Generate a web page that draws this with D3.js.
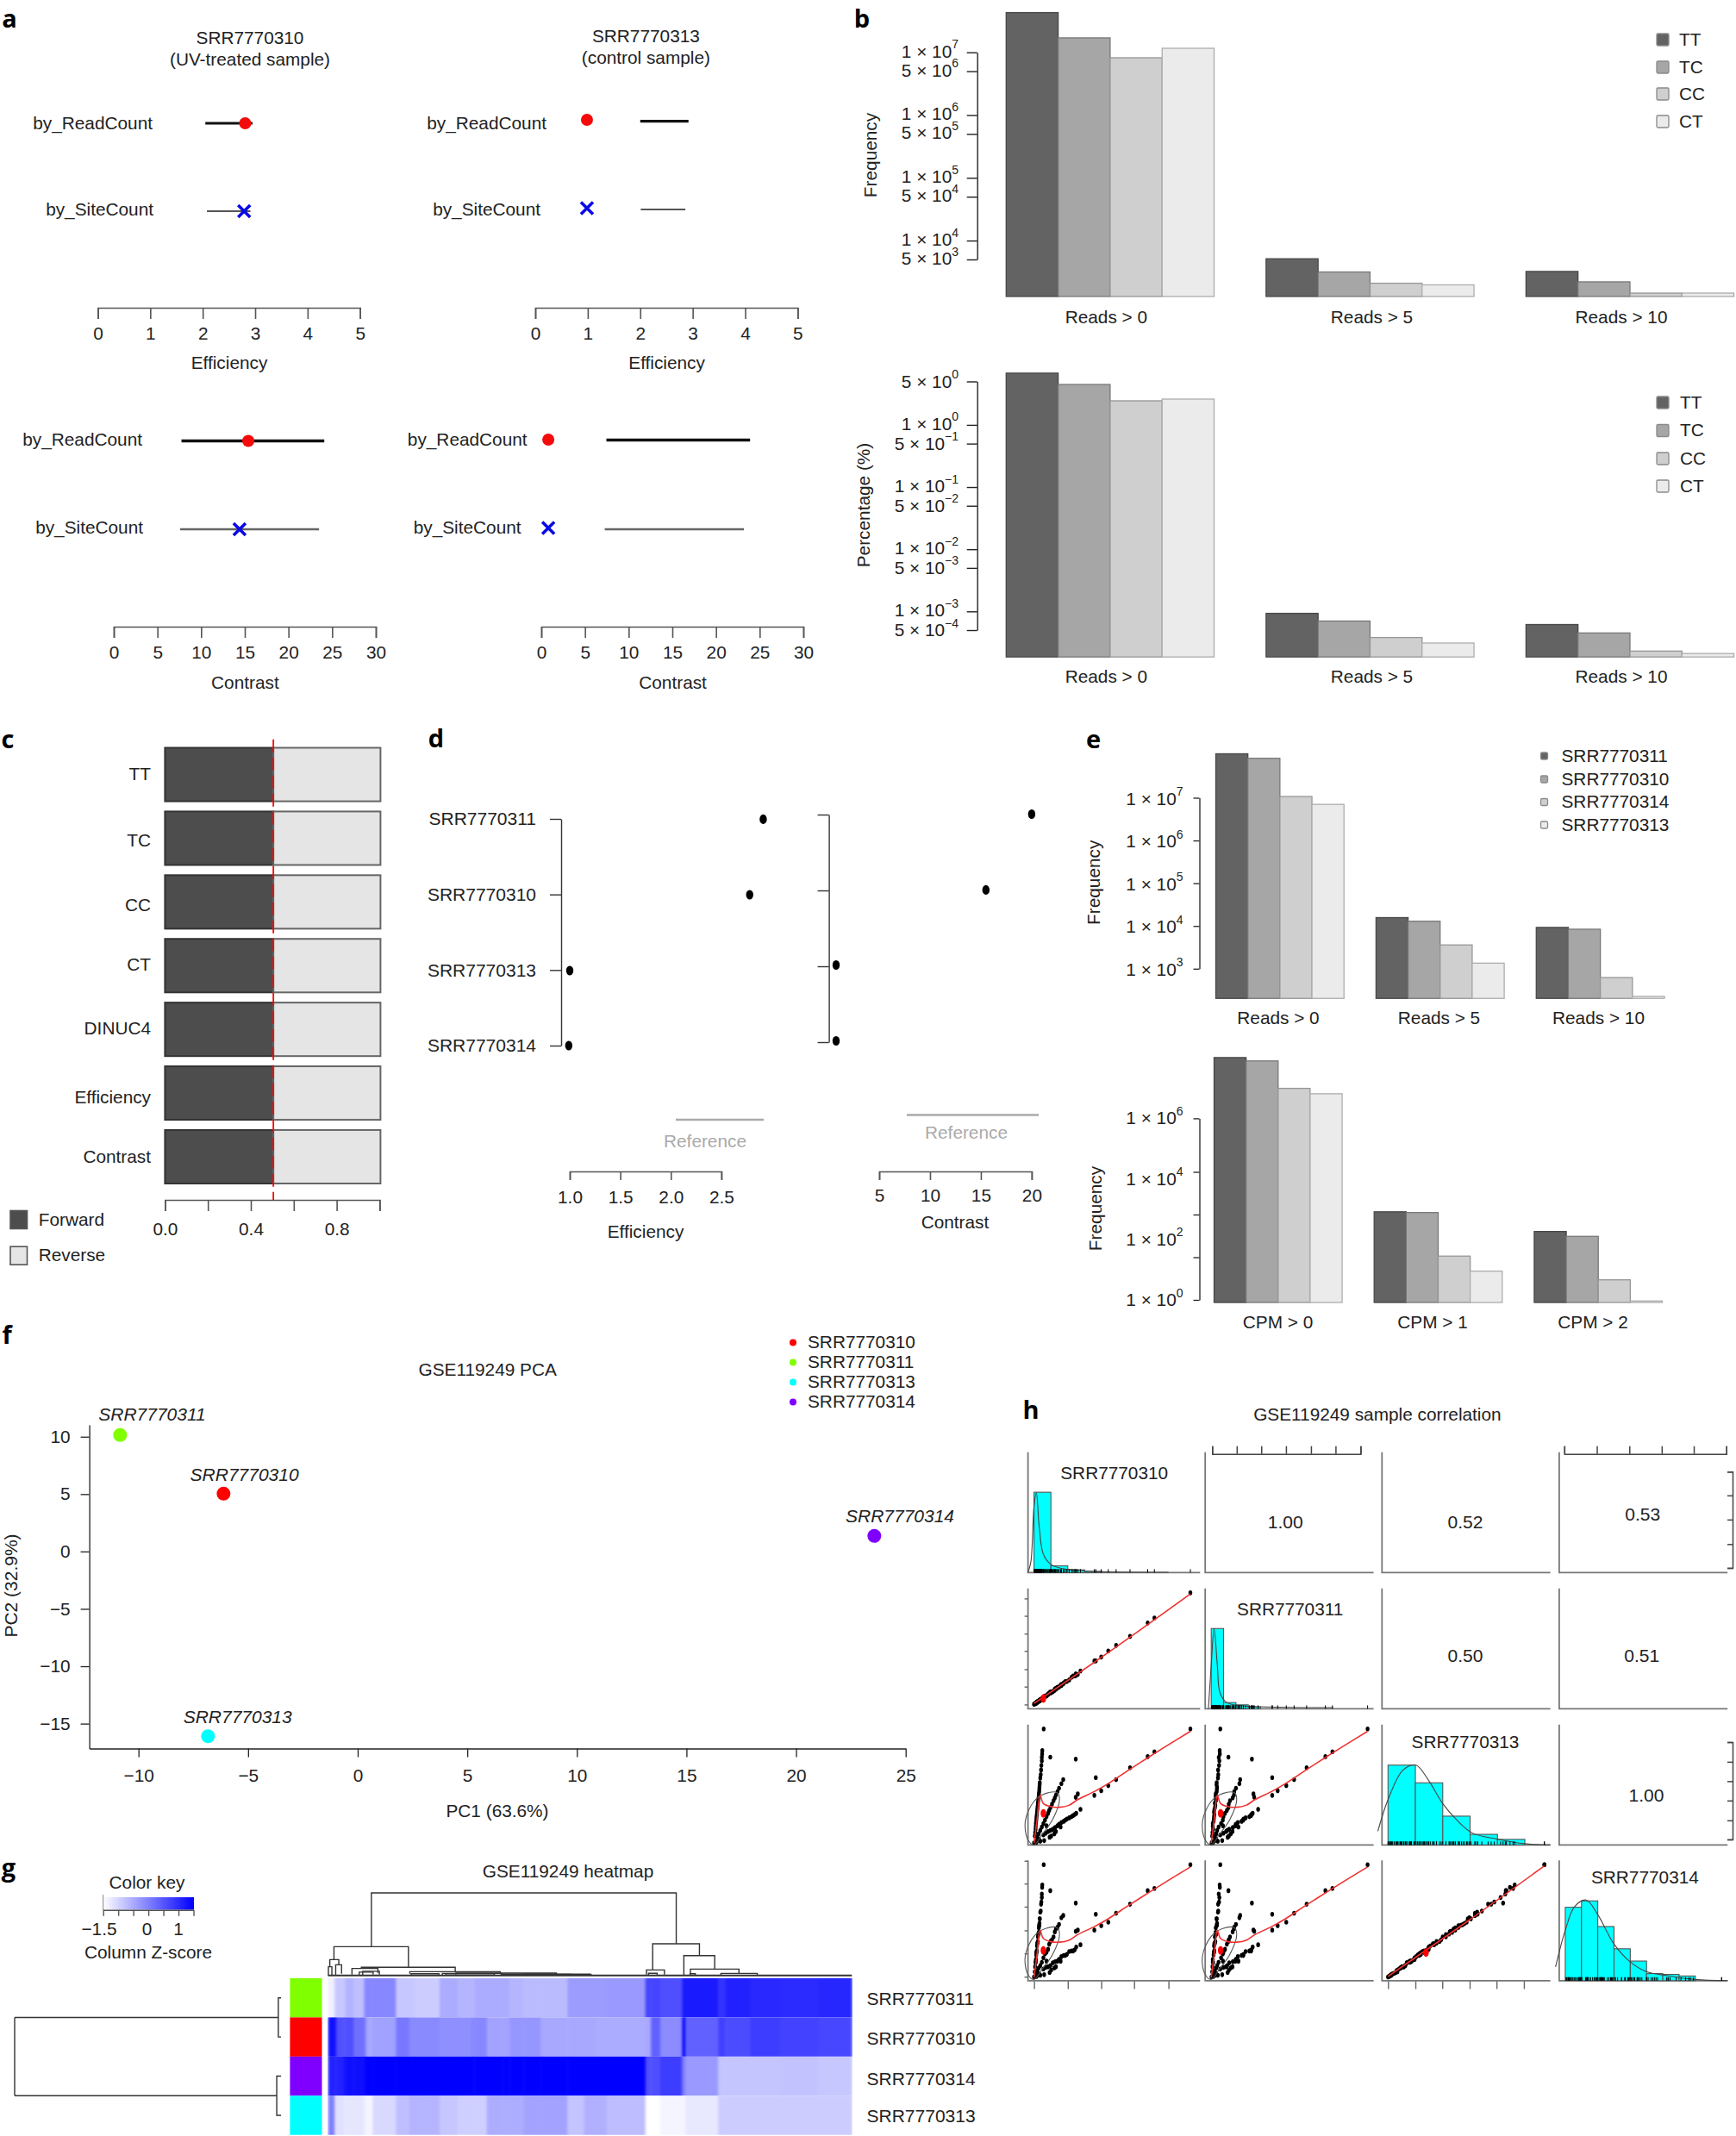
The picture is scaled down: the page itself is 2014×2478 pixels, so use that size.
<!DOCTYPE html>
<html>
<head>
<meta charset="utf-8">
<script src="https://cdn.jsdelivr.net/npm/d3@7"></script>
<style>
  body { margin: 0; background: #fff; }
  text { font-family: "Liberation Sans", Arial, sans-serif; fill: #222; }
  .letter { font-family: "Open Sans", sans-serif; font-weight: bold; font-size: 29px; fill: #000; }
</style>
</head>
<body>
<script>
////// Data

// a: [CI low, CI high, sample value]
var a310EffRead = [2.05, 2.95, 2.81], a310EffSite = [2.08, 2.91, 2.79];
var a313EffRead = [2.0, 2.92, 0.985], a313EffSite = [2.01, 2.86, 0.985];
var a310ConRead = [7.75, 24.1, 15.4], a310ConSite = [7.6, 23.5, 14.4];
var a313ConRead = [7.45, 23.9, 0.8], a313ConSite = [7.26, 23.2, 0.8];

// b
var dinucs = ["TT", "TC", "CC", "CT"];
var readGroups = ["Reads > 0", "Reads > 5", "Reads > 10"];
var bFreq = [[4.3e7, 1.7e7, 8.2e6, 1.16e7], [5130, 3160, 2090, 1970], [3220, 2200, 1455, 1455]];
var bPerc = [[6.8, 4.47, 2.44, 2.6], [9.3e-4, 7.0e-4, 3.8e-4, 3.1e-4], [6.15e-4, 4.5e-4, 2.3e-4, 2.1e-4]];
var bFreqTicks = [[1,7],[5,6],[1,6],[5,5],[1,5],[5,4],[1,4],[5,3]];
var bPercTicks = [[5,0],[1,0],[5,-1],[1,-1],[5,-2],[1,-2],[5,-3],[1,-3],[5,-4]];
var greys = ["#636363", "#a6a6a6", "#cfcfcf", "#ebebeb"];
var greyEdges = ["#474747", "#787878", "#969696", "#adadad"];

// c
var cRows = ["TT", "TC", "CC", "CT", "DINUC4", "Efficiency", "Contrast"];
var cForward = [0.505, 0.505, 0.505, 0.505, 0.505, 0.505, 0.505];

// d
var dSamples = ["SRR7770311", "SRR7770310", "SRR7770313", "SRR7770314"];
var dEfficiency = [2.914, 2.78, 1.0, 0.99];
var dContrast = [20, 15.5, 0.76, 0.76];

// e
var eSamples = ["SRR7770311", "SRR7770310", "SRR7770314", "SRR7770313"];
var cpmGroups = ["CPM > 0", "CPM > 1", "CPM > 2"];
var eReads = [[1.07e8, 8.4e7, 1.07e7, 7e6], [15700, 12900, 3600, 1350], [9250, 8400, 620, 225]];
var eCpm = [[1.02e8, 7.9e7, 9.8e6, 6.5e6], [815, 770, 28, 8.9], [182, 126, 4.6, 0.92]];
var eCpmTicks = [1e6, 17000, 661, 25.7, 1];

// f
var pcaSamples = ["SRR7770310", "SRR7770311", "SRR7770313", "SRR7770314"];
var pcaColors = ["#ff0000", "#80ff00", "#00ffff", "#8000ff"];
var pc1 = [-6.12, -10.84, -6.83, 23.57];
var pc2 = [5.04, 10.15, -16.1, 1.36];

// g
var heatRows = ["SRR7770311", "SRR7770310", "SRR7770314", "SRR7770313"];
var heatSide = ["#80ff00", "#ff0000", "#8000ff", "#00ffff"];
var heatEdges = [0,19,24,44,49,74,104,109,129,134,196,234,249,322,374,414,422,458,504,524,564,614,691,739,774,804,916,932,959,1022,1031,1126,1146,1219,1304,1414,1512];
var heat311 = [-1.32,-.84,-.84,-.84,-.6,-.75,-.09,-.09,-.09,-.09,-.84,-.84,-.9,-.51,-.63,-.63,-.51,-.51,-.51,-.63,-.69,-.69,-.33,-.33,-.33,-.3,.69,.69,.57,1.2,1.2,.9,1.11,1.02,.99,1.05];
var heat310 = [1.32,1.32,.57,.57,.57,.18,.18,-.48,-.39,-.39,.09,-.12,-.12,-.18,-.18,-.09,-.09,-.42,-.42,-.27,-.27,-.48,-.48,-.48,-.51,-.51,-.48,.36,-.15,1.44,.36,.75,.6,.78,.72,.66];
var heat314 = [1.11,1.11,1.11,1.32,1.32,1.32,1.5,1.5,1.5,1.5,1.5,1.5,1.5,1.5,1.5,1.5,1.5,1.5,1.5,1.5,1.5,1.5,1.5,1.5,1.5,1.5,.57,.57,.78,0,-.3,-.81,-.81,-.81,-.78,-.84];
var heat313 = [0,-1.14,-1.14,-1.2,-1.2,-1.2,-1.32,-1.38,-1.05,-1.05,-.75,-.63,-.63,-.84,-.93,-.93,-.93,-.54,-.54,-.54,-.42,-.42,-.81,-.57,-.57,-.72,-1.5,-1.5,-1.38,-1.38,-1.23,-.9,-.9,-.9,-.9,-.9];
// column dendrogram merges: [left leaf, right leaf, left child height, right child height, height]
var colMerges = [
  [125,1005,34.8,38.3,100],[17,232,19.2,9.8,34.8],[937,1072,6.6,24,38.3],[1027,1116,0,7.7,24],
  [1046,1186,2,2.4,7.7],[1134,1239,0,0,2.4],[919,971,1,1,6.6],[5,31,10.5,12.9,19.2],[1,11,0,0,10.5],
  [22,39,0,2,12.9],[96,367,8.4,4.5,9.8],[69,144,1,3,8.4],[90,130,0,1,4],[100,148,0,1,5],[236,497,2,2.8,4.5],
  [369,659,1,1.5,2.8],[500,757,0,1,1.5],[560,700,0,0,1.2],[565,660,0,0,1.4],[700,760,0,0,0.7],[240,320,0,0,2],
  [925,950,0,0,2.5],[1045,1060,0,0,2],[330,500,0,0,2.4],[340,480,0,0,1.9]
];
// row dendrogram merges: [top row, bottom row, height]
var rowMerges = [[0, 1, 1], [2, 3, 1.6]];

// h: sample values in the pair panels, one entry per gene
var g310 = [.005,.01,.012,.015,.018,.021,.024,.027,.03,.033,.035,.037,.04,.043,.045,.047,.05,.05,.052,.053,.062,
  .03,.05,.07,.09,.105,.125,.14,.16,.175,.187,.28,.267,
  .06,.09,.12,.15,.175,.2,.225,.25,.27,.297,.1,.13,.065,.08,
  .395,.386,.43,.475,.525,.614,.727,.77,1,.267,.104,
  0,.01,.02,.03,.04,.015,.025,.035,
  .007,.011,.014,.016,.019,.022,.025,.028,.031,.034,.036,
  .02,.04,.06,.08,.097,.115,.133,.15,
  .075,.105,.135,.16,.19,.21,.24,.26,.11,.14,.17];
var g311 = [.006,.012,.01,.017,.02,.02,.026,.03,.028,.035,.037,.035,.043,.045,.044,.05,.052,.048,.055,.054,.058,
  .032,.047,.074,.088,.11,.12,.145,.158,.18,.185,.27,.275,
  .058,.095,.115,.155,.17,.205,.22,.255,.265,.3,.105,.125,.07,.075,
  .39,.39,.425,.48,.53,.61,.73,.775,1,.26,.11,
  .002,.008,.022,.028,.042,.013,.027,.033,
  .008,.01,.015,.018,.018,.024,.023,.03,.029,.036,.034,
  .022,.038,.063,.078,.1,.112,.137,.147,
  .078,.102,.138,.157,.194,.206,.244,.256,.113,.136,.174];
var g313 = [.06,.12,.17,.21,.25,.29,.33,.37,.41,.45,.49,.53,.57,.6,.64,.68,.72,.75,.78,.81,1,
  .08,.14,.2,.26,.31,.37,.42,.48,.52,.556,.43,.4,
  .07,.1,.12,.15,.18,.2,.22,.24,.26,.295,.05,.08,.02,.15,
  .573,.417,.458,.503,.556,.66,.757,.8,1,.736,.753,
  0,.01,.02,.03,.015,.005,.04,.025,
  .09,.145,.19,.23,.27,.31,.35,.39,.43,.47,.51,
  .055,.11,.17,.23,.285,.34,.395,.45,
  .085,.11,.135,.165,.19,.21,.23,.25,.06,.1,.14];
var g314 = [.05,.13,.16,.22,.24,.3,.32,.38,.4,.46,.48,.52,.58,.59,.65,.67,.71,.74,.8,.82,1,
  .085,.135,.21,.25,.32,.36,.43,.47,.53,.55,.42,.41,
  .075,.095,.13,.145,.185,.195,.23,.235,.27,.29,.045,.085,.025,.145,
  .56,.42,.46,.49,.57,.65,.77,.79,1,.66,.77,
  .005,.012,.018,.033,.02,.008,.038,.028,
  .095,.14,.2,.225,.28,.305,.36,.385,.44,.465,.52,
  .06,.105,.175,.225,.295,.335,.405,.445,
  .09,.105,.14,.16,.195,.205,.235,.245,.065,.095,.145];
var hHist310 = [.668,.056,.023,.01], hWidth310 = .108;
var hHist311 = [.667,.052,.033,.016], hWidth311 = .079;
var hHist313 = [.663,.516,.239,.088,.046], hWidth313 = .175;
var hHist314 = [.61,.663,.45,.265,.163,.059,.052,.039], hWidth314 = .104;
var hDens310 = [[-.039,0],[-.02,.09],[0,.55],[.015,.664],[.033,.385],[.059,.155],[.104,.072],[.163,.039],[.252,.023],[.43,.007],[.86,.003]];
var hDens311 = [[-.018,0],[0,.363],[.018,.667],[.039,.363],[.056,.134],[.099,.052],[.19,.026],[.78,.01]];
var hDens313 = [[-.065,.114],[0,.376],[.095,.621],[.178,.663],[.258,.539],[.35,.343],[.436,.212],[.54,.098],[.697,.049],[.872,.01],[1.04,0]];
var hDens314 = [[-.062,.114],[0,.418],[.059,.614],[.134,.67],[.208,.549],[.312,.304],[.415,.157],[.519,.075],[.653,.042],[.83,.01],[1.04,0]];
var hLoessFan = [[0,0],[.02,.21],[.039,.417],[.059,.347],[.104,.319],[.163,.313],[.223,.33],[.282,.382],[.386,.451],[.475,.521],[.608,.642],[.727,.747],[.846,.85],[1,.98]];
var hLoessLine = [[0,.01],[.5,.49],[1,.99]];
var hEllipseFan = [[-.056,.19],[-.04,.03],[0,-.017],[.05,.07],[.12,.208],[.163,.38],[.148,.441],[.074,.434],[0,.365]];
var hCorr = ["1.00", "0.52", "0.53", "0.50", "0.51", "1.00"];

////// Drawing helpers

var baseFont = 20.8;
var svg = d3.select("body").append("svg").attr("width", 2014).attr("height", 2478);
svg.append("rect").attr("width", 2014).attr("height", 2478).attr("fill", "#fff");

function label(x, y, str, size, anchor, opts) {
  var t = svg.append("text").attr("x", x).attr("y", y - 1).attr("font-size", size || baseFont)
    .attr("text-anchor", anchor || "middle").attr("dominant-baseline", "central").text(str);
  if (opts && opts.fill) t.style("fill", opts.fill);
  if (opts && opts.italic) t.attr("font-style", "italic");
  return t;
}

function vlabel(x, y, str, size) {
  svg.append("text").attr("transform", "translate(" + x + "," + y + ") rotate(-90)")
    .attr("font-size", size || baseFont).attr("text-anchor", "middle").attr("dominant-baseline", "central").text(str);
}

function letter(x, y, str) {
  svg.append("text").attr("class", "letter").attr("x", x).attr("y", y)
    .attr("text-anchor", "middle").attr("dominant-baseline", "central").text(str);
}

function styleAxis(g, size, colour, width) {
  g.attr("font-size", size || baseFont).attr("font-family", null);
  g.selectAll("path.domain").attr("stroke", colour || "#555").attr("stroke-width", width || 1.6);
  g.selectAll(".tick line").attr("stroke", colour || "#555").attr("stroke-width", width || 1.6);
  g.selectAll(".tick text").style("fill", "#222");
}

function axisBelow(scale, y, values, tick, labelY, format) {
  var ax = d3.axisBottom(scale).tickValues(values).tickSizeInner(tick).tickSizeOuter(tick)
    .tickPadding(labelY - y - tick - 8).tickFormat(format || d3.format("d"));
  var g = svg.append("g").attr("transform", "translate(0," + y + ")").call(ax);
  styleAxis(g);
  return g;
}

function sciLabel(x, y, m, e, size) {
  var t = svg.append("text").attr("x", x).attr("y", y - 0.5).attr("font-size", size || baseFont)
    .attr("text-anchor", "end").attr("dominant-baseline", "central").text(m + " × 10");
  t.append("tspan").attr("dy", -8).attr("font-size", 14)
    .text(String(e).replace("-", "−"));
}

////// Panel a

function ciRow(x, labelRight, labelY, str, vals, lineY, pointY, lineW, lineCol, cross) {
  label(labelRight, labelY, str, baseFont, "end");
  svg.append("line").attr("x1", x(vals[0])).attr("x2", x(vals[1])).attr("y1", lineY).attr("y2", lineY)
    .attr("stroke", lineCol).attr("stroke-width", lineW);
  if (cross) {
    svg.append("path").attr("transform", "translate(" + x(vals[2]) + "," + pointY + ")")
      .attr("d", "M-7,-7L7,7M-7,7L7,-7").attr("stroke", "#0a0ae6").attr("stroke-width", 3.6).attr("fill", "none");
  } else {
    svg.append("circle").attr("cx", x(vals[2])).attr("cy", pointY).attr("r", 7).attr("fill", "#f40a0a");
  }
}

var aEff1 = d3.scaleLinear().domain([0, 5]).range([113.5, 417.7]);
var aEff2 = d3.scaleLinear().domain([0, 5]).range([621, 925.4]);
var aCon1 = d3.scaleLinear().domain([0, 30]).range([132, 436]);
var aCon2 = d3.scaleLinear().domain([0, 30]).range([628, 932]);
[aEff1, aEff2].forEach(function (s) { axisBelow(s, 357, [0,1,2,3,4,5], 13, 387); });
[aCon1, aCon2].forEach(function (s) { axisBelow(s, 727, [0,5,10,15,20,25,30], 13, 757); });
label(266, 421.5, "Efficiency"); label(773.6, 421.5, "Efficiency");
label(284.4, 792, "Contrast"); label(780.6, 792, "Contrast");
label(290, 44.5, "SRR7770310"); label(290, 69, "(UV-treated sample)");
label(749.4, 42, "SRR7770313"); label(749.4, 67, "(control sample)");

ciRow(aEff1, 177, 143, "by_ReadCount", a310EffRead, 143, 143, 3.2, "#111", false);
ciRow(aEff1, 178, 243, "by_SiteCount", a310EffSite, 245, 245, 2.2, "#555", true);
ciRow(aEff2, 634, 143, "by_ReadCount", a313EffRead, 140.7, 139, 3.2, "#111", false);
ciRow(aEff2, 627, 243, "by_SiteCount", a313EffSite, 243, 241.6, 2.2, "#555", true);
ciRow(aCon1, 165, 510.5, "by_ReadCount", a310ConRead, 511.5, 511.5, 3.6, "#111", false);
ciRow(aCon1, 166, 612.5, "by_SiteCount", a310ConSite, 614, 614, 2.6, "#666", true);
ciRow(aCon2, 611.6, 510.5, "by_ReadCount", a313ConRead, 510.5, 510, 3.6, "#111", false);
ciRow(aCon2, 604.6, 612.5, "by_SiteCount", a313ConSite, 614, 612.5, 2.6, "#666", true);

////// Panels b and e: grouped bars on a log axis

function logBars(groups, series, x0Range, y, base) {
  var x0 = d3.scaleBand().domain(groups).range(x0Range).paddingInner(0.2);
  var x1 = d3.scaleBand().domain([0, 1, 2, 3]).range([0, x0.bandwidth()]);
  groups.forEach(function (g, i) {
    svg.append("g").selectAll("rect").data(series[i]).enter().append("rect")
      .attr("x", function (d, j) { return x0(g) + x1(j); })
      .attr("width", x1.bandwidth())
      .attr("y", function (d) { return y(d); })
      .attr("height", function (d) { return y(base) - y(d); })
      .attr("fill", function (d, j) { return greys[j]; })
      .attr("stroke", function (d, j) { return greyEdges[j]; })
      .attr("stroke-width", 1.3);
  });
}

function logAxis(y, x, ticks) {
  var g = svg.append("g").attr("transform", "translate(" + x + ",0)")
    .call(d3.axisLeft(y).tickValues(ticks).tickSizeInner(12).tickSizeOuter(0).tickFormat(""));
  styleAxis(g, baseFont, "#222", 1.4);
}

function swatches(names, x, ys, size, textX, fontSize) {
  names.forEach(function (n, i) {
    svg.append("rect").attr("x", x).attr("y", ys[i] - size / 2).attr("width", size).attr("height", size)
      .attr("rx", 1.5).attr("fill", greys[i]).attr("stroke", "#8a8a8a").attr("stroke-width", 1.3);
    label(textX, ys[i], n, fontSize || baseFont, "start");
  });
}

var bFreqY = d3.scaleLog().domain([1e7, 5e3]).range([60.7, 301]);
var bPercY = d3.scaleLog().domain([5, 5e-4]).range([442.5, 731]);
logBars(readGroups, bFreq, [1167.3, 2011.6], bFreqY, 1285);
logBars(readGroups, bPerc, [1167.3, 2011.6], bPercY, 1.85e-4);
logAxis(bFreqY, 1133.7, bFreqTicks.map(function (t) { return t[0] * Math.pow(10, t[1]); }));
logAxis(bPercY, 1133.7, bPercTicks.map(function (t) { return t[0] * Math.pow(10, t[1]); }));
bFreqTicks.forEach(function (t) { sciLabel(1112, bFreqY(t[0] * Math.pow(10, t[1])) - 1, t[0], t[1]); });
bPercTicks.forEach(function (t) { sciLabel(1112, bPercY(t[0] * Math.pow(10, t[1])) - (t[0] === 1 ? 1 : 0), t[0], t[1]); });
vlabel(1009.7, 180, "Frequency");
vlabel(1001.8, 586, "Percentage (%)");
[1283.4, 1591.5, 1881].forEach(function (x, i) {
  label(x, 368.7, readGroups[i]);
  label(x, 785, readGroups[i]);
});
swatches(dinucs, 1922, [46, 78, 109, 141], 14, 1948);
swatches(dinucs, 1922, [467, 499.5, 532, 564], 14, 1949);

var eReadY = d3.scaleLog().domain([1e7, 1e3]).range([925.5, 1123.8]);
var eCpmY = d3.scaleLog().domain([1e6, 1]).range([1297.4, 1508]);
logBars(readGroups, eReads, [1410.5, 1931], eReadY, 202);
logBars(cpmGroups, eCpm, [1408.5, 1928.5], eCpmY, 0.82);
var eg1 = svg.append("g").attr("transform", "translate(1391.5,0)")
  .call(d3.axisLeft(eReadY).tickValues([1e7, 1e6, 1e5, 1e4, 1e3]).tickSizeInner(7).tickSizeOuter(0).tickFormat(""));
styleAxis(eg1, baseFont, "#222", 1.3);
var eg2 = svg.append("g").attr("transform", "translate(1391.5,0)")
  .call(d3.axisLeft(eCpmY).tickValues(eCpmTicks).tickSizeInner(7).tickSizeOuter(0).tickFormat(""));
styleAxis(eg2, baseFont, "#222", 1.3);
[7, 6, 5, 4, 3].forEach(function (e) { sciLabel(1372.5, eReadY(Math.pow(10, e)) + 1, 1, e); });
[6, 4, 2, 0].forEach(function (e) { sciLabel(1372.5, eCpmY(Math.pow(10, e)), 1, e); });
vlabel(1268.5, 1023.8, "Frequency");
vlabel(1270, 1402, "Frequency");
[1483, 1669.5, 1854.5].forEach(function (x, i) { label(x, 1181, readGroups[i]); });
[1482.5, 1662, 1848].forEach(function (x, i) { label(x, 1534, cpmGroups[i]); });
swatches(eSamples, 1787.5, [877, 904, 930.5, 957], 8, 1811.5);

////// Panel c

var cX = d3.scaleLinear().domain([0, 1]).range([191.4, 440.4]);
var cY = d3.scaleBand().domain(cRows).range([867.5, 1373]).paddingInner(0.16).paddingOuter(0);
var cLabelY = [898, 975, 1050.5, 1119.5, 1193, 1273, 1342];
cRows.forEach(function (r, i) {
  svg.append("rect").attr("x", cX(0)).attr("y", cY(r)).attr("width", cX(cForward[i]) - cX(0)).attr("height", cY.bandwidth())
    .attr("fill", "#4d4d4d").attr("stroke", "#333").attr("stroke-width", 2);
  svg.append("rect").attr("x", cX(cForward[i])).attr("y", cY(r)).attr("width", cX(1) - cX(cForward[i]) + 1).attr("height", cY.bandwidth())
    .attr("fill", "#e5e5e5").attr("stroke", "#666").attr("stroke-width", 2);
  label(175, cLabelY[i], r, baseFont, "end");
});
svg.append("line").attr("x1", cX(0.505)).attr("x2", cX(0.505)).attr("y1", 857.8).attr("y2", 1393)
  .attr("stroke", "#f00").attr("stroke-width", 1.8).attr("stroke-dasharray", "15 6");
axisBelow(cX, 1392, [0, .2, .4, .6, .8, 1], 13, 1426, function (d) {
  return (d === 0 || d === .4 || d === .8) ? d.toFixed(1) : "";
});
[["Forward", "#4d4d4d", 1415], ["Reverse", "#e5e5e5", 1456.7]].forEach(function (l) {
  svg.append("rect").attr("x", 12).attr("y", l[2] - 10.5).attr("width", 19.5).attr("height", 21)
    .attr("fill", l[1]).attr("stroke", "#555").attr("stroke-width", 1.6);
  label(44.7, l[2], l[0], baseFont, "start");
});

////// Panel d

function dotAxis(axisX, yRange, values, xScale, yDots, showLabels) {
  var y = d3.scalePoint().domain(dSamples).range(yRange);
  var ax = d3.axisLeft(y).tickSizeInner(13).tickSizeOuter(0).tickPadding(16);
  if (!showLabels) ax.tickFormat("");
  var g = svg.append("g").attr("transform", "translate(" + axisX + ",0)").call(ax);
  styleAxis(g, 21, "#333", 1.4);
  svg.append("g").selectAll("ellipse").data(values).enter().append("ellipse")
    .attr("cx", function (d) { return xScale(d); })
    .attr("cy", function (d, i) { return yDots[i]; })
    .attr("rx", 4.2).attr("ry", 5.6).attr("fill", "#000");
}
var dEffX = d3.scaleLinear().domain([1, 2.5]).range([661, 836.9]);
var dConX = d3.scaleLinear().domain([5, 20]).range([1020, 1196.9]);
dotAxis(651, [950, 1213], dEfficiency, dEffX, [950.4, 1038, 1126, 1213], true);
dotAxis(961.6, [945, 1209], dContrast, dConX, [944.5, 1032.4, 1119.5, 1207.5], false);
axisBelow(dEffX, 1359, [1, 1.5, 2, 2.5], 10, 1389, d3.format(".1f"));
axisBelow(dConX, 1359, [5, 10, 15, 20], 10, 1387);
label(749, 1429, "Efficiency"); label(1108, 1418, "Contrast");
[[784, 886, 1299, 818, 1324], [1052, 1205, 1293.4, 1121, 1314]].forEach(function (r) {
  svg.append("line").attr("x1", r[0]).attr("x2", r[1]).attr("y1", r[2]).attr("y2", r[2])
    .attr("stroke", "#aaa").attr("stroke-width", 2.5);
  label(r[3], r[4], "Reference", baseFont, "middle", { fill: "#aaa" });
});

////// Panel f

var fX = d3.scaleLinear().domain([-12.245, 25]).range([103.6, 1050.7]);
var fY = d3.scaleLinear().domain([11.04, -17.17]).range([1652.9, 2028.5]);
var fmtMinus = function (d) { return String(d).replace("-", "−"); };
var fxg = svg.append("g").attr("transform", "translate(0,2028.5)")
  .call(d3.axisBottom(fX).tickValues([-10, -5, 0, 5, 10, 15, 20, 25]).tickSizeInner(10).tickSizeOuter(0).tickPadding(14).tickFormat(fmtMinus));
styleAxis(fxg, baseFont, "#222", 1.3);
var fyg = svg.append("g").attr("transform", "translate(103.6,0)")
  .call(d3.axisLeft(fY).tickValues([10, 5, 0, -5, -10, -15]).tickSizeInner(10).tickSizeOuter(0).tickPadding(12).tickFormat(fmtMinus));
styleAxis(fyg, baseFont, "#222", 1.3);
var fLabelX = [283.6, 176.5, 275.7, 1044];
var fLabelY = [1711.4, 1641.4, 1992.5, 1759.6];
pcaSamples.forEach(function (s, i) {
  svg.append("circle").attr("cx", fX(pc1[i])).attr("cy", fY(pc2[i])).attr("r", 8).attr("fill", pcaColors[i]);
  label(fLabelX[i], fLabelY[i], s, 21, "middle", { italic: true });
  var ly = [1557.6, 1580.5, 1603.4, 1626.4][i];
  svg.append("circle").attr("cx", 920).attr("cy", ly).attr("r", 4).attr("fill", pcaColors[i]);
  label(937, ly, s, baseFont, "start");
});
label(565.7, 1589, "GSE119249 PCA");
label(577, 2101, "PC1 (63.6%)");
vlabel(12, 1839.5, "PC2 (32.9%)", 21);

////// Panel g

svg.append("defs").append("filter").attr("id", "heatBlur")
  .attr("x", "0").attr("width", "1").attr("color-interpolation-filters", "sRGB")
  .append("feGaussianBlur").attr("stdDeviation", "1.5 0").attr("edgeMode", "duplicate");

var heatColor = d3.scaleLinear().domain([-1.5, 1.5]).range(["#ffffff", "#0000ff"]);
var heatX = d3.scaleLinear().domain([0, 1512]).range([380.6, 988.3]);
var heatY = d3.scaleBand().domain(heatRows).range([2295, 2476.7]);
[heat311, heat310, heat314, heat313].forEach(function (vals, r) {
  svg.append("g").attr("filter", "url(#heatBlur)").selectAll("rect").data(vals).enter().append("rect")
    .attr("x", function (d, i) { return heatX(heatEdges[i]); })
    .attr("width", function (d, i) { return heatX(heatEdges[i + 1]) - heatX(heatEdges[i]) + 0.5; })
    .attr("y", heatY(heatRows[r])).attr("height", heatY.bandwidth())
    .attr("fill", function (d) { return heatColor(d); });
  svg.append("rect").attr("x", 336.4).attr("width", 37.1).attr("y", heatY(heatRows[r])).attr("height", heatY.bandwidth())
    .attr("fill", heatSide[r]);
});
[2319, 2365, 2412, 2455.5].forEach(function (y, i) { label(1005.5, y, heatRows[i], 21, "start"); });

var dendroY = d3.scaleLinear().domain([0, 100]).range([2291.7, 2196]);
var dendroLine = svg.append("g").attr("fill", "none").attr("stroke", "#333").attr("stroke-width", 1.4);
colMerges.forEach(function (m) {
  dendroLine.append("path").attr("d",
    "M" + heatX(m[0]) + "," + dendroY(m[2]) + "V" + dendroY(m[4]) + "H" + heatX(m[1]) + "V" + dendroY(m[3]));
});
dendroLine.append("line").attr("x1", heatX(0)).attr("x2", heatX(1512)).attr("y1", dendroY(0)).attr("y2", dendroY(0))
  .attr("stroke-width", 2);

var rowDendroX = d3.scaleLinear().domain([0, 100]).range([326, 17]);
var rowMid = heatRows.map(function (r) { return heatY(r) + heatY.bandwidth() / 2; });
rowMerges.forEach(function (m) {
  var x = rowDendroX(m[2]);
  dendroLine.append("path").attr("d", "M" + rowDendroX(0) + "," + rowMid[m[0]] + "H" + x + "V" + rowMid[m[1]] + "H" + rowDendroX(0));
  var mid = (rowMid[m[0]] + rowMid[m[1]]) / 2;
  dendroLine.append("path").attr("d", "M" + x + "," + mid + "H" + rowDendroX(100));
});
dendroLine.append("line").attr("x1", rowDendroX(100)).attr("x2", rowDendroX(100))
  .attr("y1", (rowMid[0] + rowMid[1]) / 2).attr("y2", (rowMid[2] + rowMid[3]) / 2);

// colour key
var keyX = d3.scaleLinear().domain([-1.5, 1.5]).range([119.7, 224.5]);
var keyStops = d3.range(-1.5, 1.45, 0.1);
svg.append("g").selectAll("rect").data(keyStops).enter().append("rect")
  .attr("x", function (d) { return keyX(d); }).attr("width", keyX(0.1) - keyX(0) + 0.5)
  .attr("y", 2201).attr("height", 14.5).attr("fill", function (d) { return heatColor(d + 0.05); });
svg.append("line").attr("x1", 119.7).attr("x2", 119.7).attr("y1", 2198).attr("y2", 2216).attr("stroke", "#888");
var keyAxis = svg.append("g").attr("transform", "translate(0,2215.7)")
  .call(d3.axisBottom(keyX).tickValues([-1.5, -1, -.5, 0, .5, 1, 1.5]).tickSizeInner(7).tickSizeOuter(0).tickFormat(""));
styleAxis(keyAxis, baseFont, "#555", 1.4);
label(115, 2238, "−1.5"); label(170.5, 2238, "0"); label(207, 2238, "1");
label(170.5, 2184, "Color key"); label(172, 2265, "Column Z-score");
label(659, 2171.7, "GSE119249 heatmap");

////// Panel h

var colLeft = [1192.6, 1398.2, 1603.3, 1808.9];
var colRight = [1392.3, 1593.6, 1798.6, 2004.2];
var rowBase = [1824.4, 1982.4, 2140.3, 2297.8];
var rowZero = [2.3, 5, 2.3, 3.7];
var hValues = [g310, g311, g313, g314];
var hHists = [hHist310, hHist311, hHist313, hHist314];
var hWidths = [hWidth310, hWidth311, hWidth313, hWidth314];
var hDens = [hDens310, hDens311, hDens313, hDens314];
var hNames = ["SRR7770310", "SRR7770311", "SRR7770313", "SRR7770314"];
var hNameX = [1292.7, 1496.7, 1700, 1908.4];
var hNameY = [1709.6, 1867.6, 2021.8, 2178];

function hxScale(c) { return d3.scaleLinear().domain([0, 1]).range([colLeft[c] + 7, colLeft[c] + 188.4]); }
function hyScale(r) { return d3.scaleLinear().domain([0, 1]).range([rowBase[r] - rowZero[r], rowBase[r] - 134.5]); }

var frameStyle = { stroke: "#777", width: 1.8 };
for (var r = 0; r < 4; r++) {
  for (var c = 0; c < 4; c++) {
    svg.append("path").attr("d", "M" + colLeft[c] + "," + (rowBase[r] - 139.6) + "V" + rowBase[r] + "H" + colRight[c])
      .attr("fill", "none").attr("stroke", frameStyle.stroke).attr("stroke-width", frameStyle.width);
  }
}

// diagonal histograms
hValues.forEach(function (vals, i) {
  var x = hxScale(i);
  var y = d3.scaleLinear().domain([0, 1]).range([rowBase[i], rowBase[i] - 139.6]);
  svg.append("g").selectAll("rect").data(hHists[i]).enter().append("rect")
    .attr("x", function (d, k) { return x(k * hWidths[i]); })
    .attr("width", x(hWidths[i]) - x(0))
    .attr("y", function (d) { return y(d); })
    .attr("height", function (d) { return y(0) - y(d); })
    .attr("fill", "#00ffff").attr("stroke", "#555").attr("stroke-width", 1.1);
  svg.append("path").datum(hDens[i]).attr("fill", "none").attr("stroke", "#444").attr("stroke-width", 1.1)
    .attr("d", d3.line().curve(d3.curveCatmullRom).x(function (d) { return x(d[0]); }).y(function (d) { return y(d[1]); }));
  svg.append("g").selectAll("line").data(vals).enter().append("line")
    .attr("x1", function (d) { return x(d); }).attr("x2", function (d) { return x(d); })
    .attr("y1", rowBase[i]).attr("y2", rowBase[i] - 4).attr("stroke", "#000").attr("stroke-width", 1);
  label(hNameX[i], hNameY[i], hNames[i]);
});

// lower triangle scatter panels
function pairPanel(c, r, loess, ellipse, dot) {
  var x = hxScale(c), y = hyScale(r);
  var pts = svg.append("g");
  pts.selectAll("ellipse").data(hValues[c]).enter().append("ellipse")
    .attr("cx", function (d) { return x(d); })
    .attr("cy", function (d, i) { return y(hValues[r][i]); })
    .attr("rx", 2.2).attr("ry", 2.8).attr("fill", "#000");
  if (ellipse) {
    svg.append("path").datum(ellipse).attr("fill", "none").attr("stroke", "#555").attr("stroke-width", 1.1)
      .attr("d", d3.line().curve(d3.curveCatmullRomClosed).x(function (d) { return x(d[0]); }).y(function (d) { return y(d[1]); }));
  }
  svg.append("path").datum(loess).attr("fill", "none").attr("stroke", "#f03030").attr("stroke-width", 1.6)
    .attr("d", d3.line().curve(d3.curveCatmullRom).x(function (d) { return x(d[0]); }).y(function (d) { return y(d[1]); }));
  svg.append("ellipse").attr("cx", x(dot[0])).attr("cy", y(dot[1])).attr("rx", 3.2).attr("ry", 5).attr("fill", "#f00");
}
pairPanel(0, 1, hLoessLine, null, [.06, .053]);
pairPanel(0, 2, hLoessFan, hEllipseFan, [.06, .26]);
pairPanel(1, 2, hLoessFan, hEllipseFan, [.06, .26]);
pairPanel(0, 3, hLoessFan, hEllipseFan, [.06, .24]);
pairPanel(1, 3, hLoessFan, hEllipseFan, [.06, .24]);
pairPanel(2, 3, hLoessLine, null, [.243, .22]);

// correlations in the upper triangle
[[1491.3, 1766], [1700, 1766], [1905.7, 1757.4], [1700, 1921.3], [1904.7, 1921.3], [1910, 2083]].forEach(function (p, i) {
  label(p[0], p[1], hCorr[i], 21);
});

// outer axes of the pairs plot
function smallAxis(axis, tx, ty, values, scale, inner) {
  var g = svg.append("g").attr("transform", "translate(" + tx + "," + ty + ")")
    .call(axis(scale).tickValues(values).tickSizeInner(inner).tickSizeOuter(inner).tickFormat(""));
  styleAxis(g, 10, "#444", 1.5);
  return g;
}
smallAxis(d3.axisTop, 0, 1686.7, [.006, .163, .32, .478, .638, .795, .955], d3.scaleLinear().domain([.006, .955]).range([hxScale(1)(.006), hxScale(1)(.955)]), 9);
smallAxis(d3.axisTop, 0, 1686.7, [-.006, .202, .41, .617, .822, 1.03], d3.scaleLinear().domain([-.006, 1.03]).range([hxScale(3)(-.006), hxScale(3)(1.03)]), 9);
var hTick = function (r, vals) { return d3.scaleLinear().domain([vals[vals.length - 1], vals[0]]).range([hyScale(r)(vals[vals.length - 1]), hyScale(r)(vals[0])]); };
var hRight1 = [.868, .66, .448, .233, .024], hRight3 = [.885, .712, .542, .372, .198, .031];
smallAxis(d3.axisRight, 2010, 0, hRight1, hTick(0, hRight1), -6);
smallAxis(d3.axisRight, 2010, 0, hRight3, hTick(2, hRight3), -6);
var hBottom1 = [0, .216, .43, .64, .86], hBottom3 = [0, .175, .347, .522, .694, .869];
[[0, hBottom1], [2, hBottom3]].forEach(function (a) {
  var g = svg.append("g").attr("transform", "translate(0,2298.5)")
    .call(d3.axisBottom(hxScale(a[0])).tickValues(a[1]).tickSizeInner(9).tickSizeOuter(0).tickFormat(""));
  styleAxis(g, 10, "#666", 1.4);
  g.select("path.domain").remove();
});
var hLeft2 = [.95, .794, .635, .48, .316, .16, 0], hLeft4 = [1.035, .833, .628, .418, .213, .007];
[[1, hLeft2], [3, hLeft4]].forEach(function (a) {
  var g = svg.append("g").attr("transform", "translate(1192.6,0)")
    .call(d3.axisLeft(hyScale(a[0])).tickValues(a[1]).tickSizeInner(4).tickSizeOuter(0).tickFormat(""));
  styleAxis(g, 10, "#666", 1.4);
  g.select("path.domain").remove();
});
label(1597.9, 1641.2, "GSE119249 sample correlation");

////// Panel letters
letter(11, 20, "a"); letter(1000, 20, "b"); letter(9, 856, "c"); letter(506, 855, "d");
letter(1268.5, 856.6, "e"); letter(8, 1547, "f"); letter(10, 2165, "g"); letter(1196, 1634, "h");
</script>
</body>
</html>
